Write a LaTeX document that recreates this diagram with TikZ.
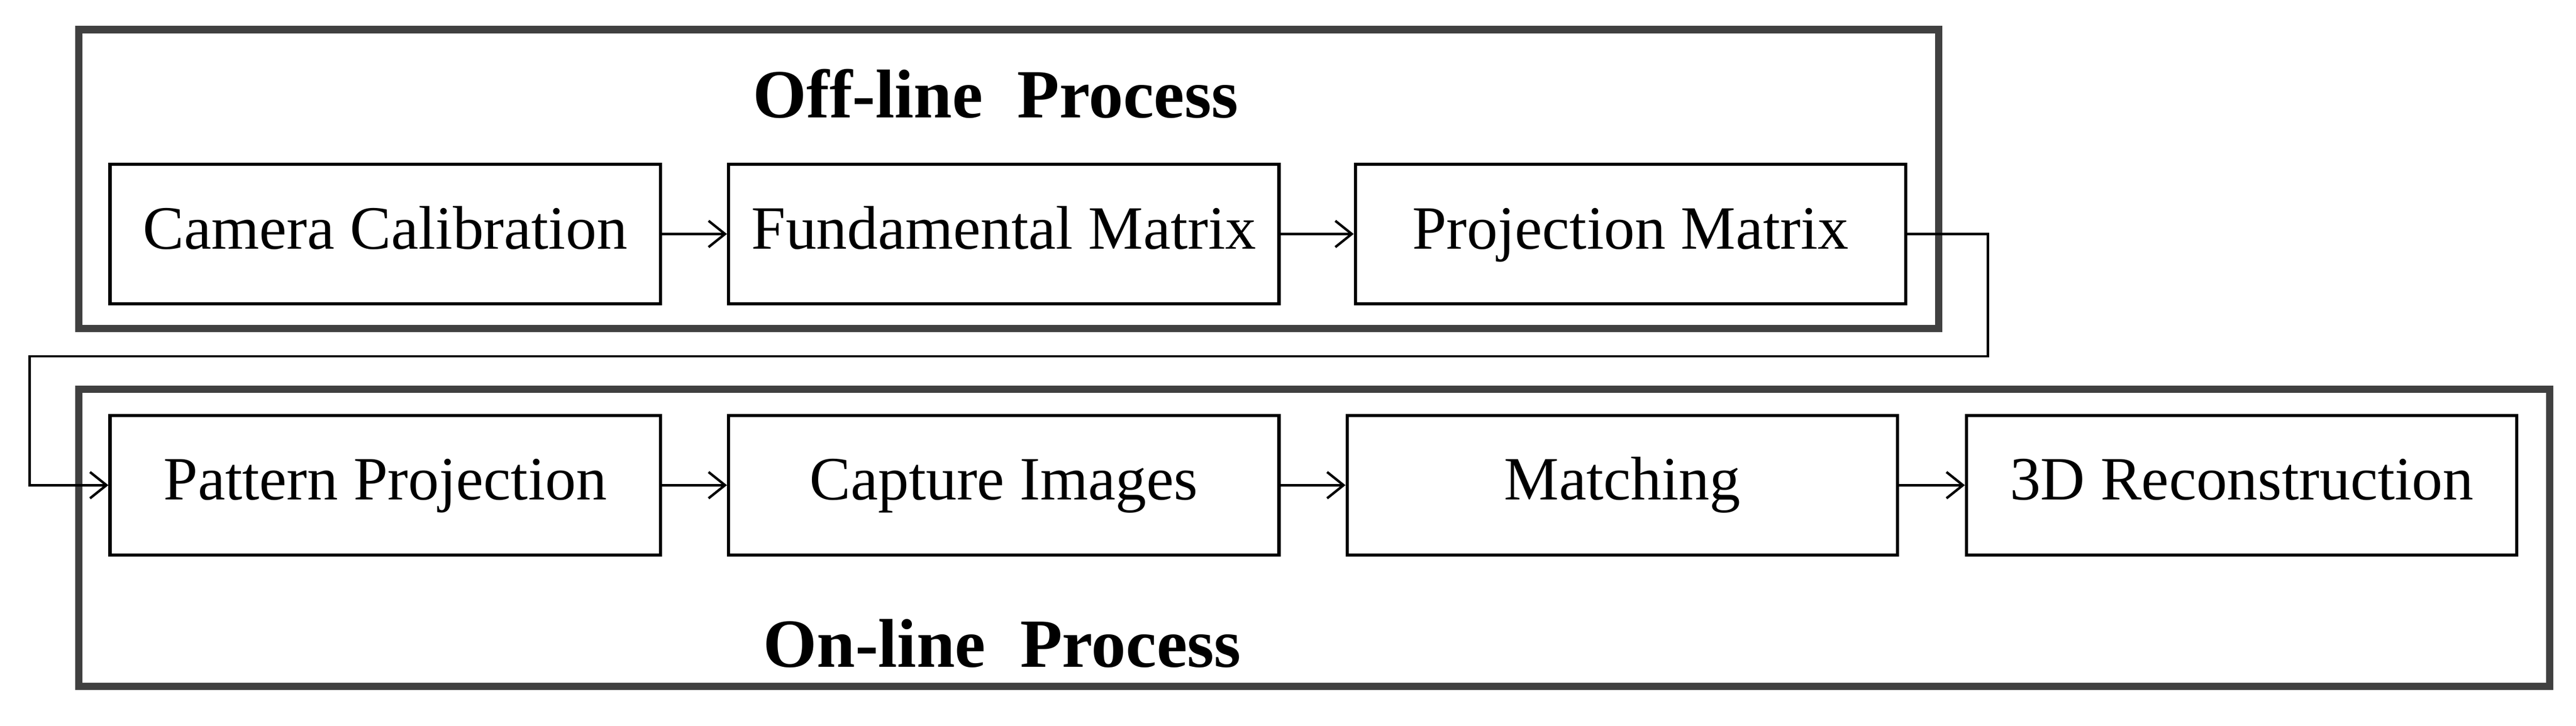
\documentclass[tikz,border=0pt]{standalone}
\usepackage{fontspec}
\setmainfont{Liberation Serif}
\usetikzlibrary{arrows.meta}
\begin{document}
\begin{tikzpicture}[x=1pt,y=-1pt,
  box/.style={draw,line width=2pt,minimum width=335pt,minimum height=85pt,inner sep=0pt,text height=26pt,text depth=8pt,font=\fontsize{37.5}{42}\selectfont},
  outer/.style={draw,line width=4.5pt,color=black!75},
  title/.style={font=\fontsize{42}{46}\selectfont\bfseries},
  arr/.style={line width=1.5pt,-{Straight Barb[length=10pt,width=16pt]}}]
\useasboundingbox (0,0) rectangle (1568,442);
\draw[outer] (48,18) rectangle (1180,200);
\draw[outer] (48,237) rectangle (1552,418);
\node[title] (t1) at (606,57) {Off-line\ \ Process};
\node[title] (t2) at (610,392) {On-line\ \ Process};
\node[box] (cc) at (234.5,142.5) {Camera Calibration};
\node[box] (fm) at (611,142.5) {Fundamental Matrix};
\node[box] (pm) at (992.5,142.5) {Projection Matrix};
\node[box] (pp) at (234.5,295.5) {Pattern Projection};
\node[box] (ci) at (611,295.5) {Capture Images};
\node[box] (ma) at (987.5,295.5) {Matching};
\node[box] (3d) at (1364.5,295.5) {3D Reconstruction};
\draw[arr] (cc) -- (fm);
\draw[arr] (fm) -- (pm);
\draw[arr] (ci) -- (ma);
\draw[arr] (ma) -- (3d);
\draw[arr] (pp) -- (ci);
\coordinate (c1) at (1210,142.5);
\coordinate (c2) at (1210,217);
\coordinate (c3) at (18,217);
\coordinate (c4) at (18,295.5);
\draw[arr] (pm.east) -- (c1) -- (c2) -- (c3) -- (c4) -- (pp.west);
\end{tikzpicture}
\end{document}
